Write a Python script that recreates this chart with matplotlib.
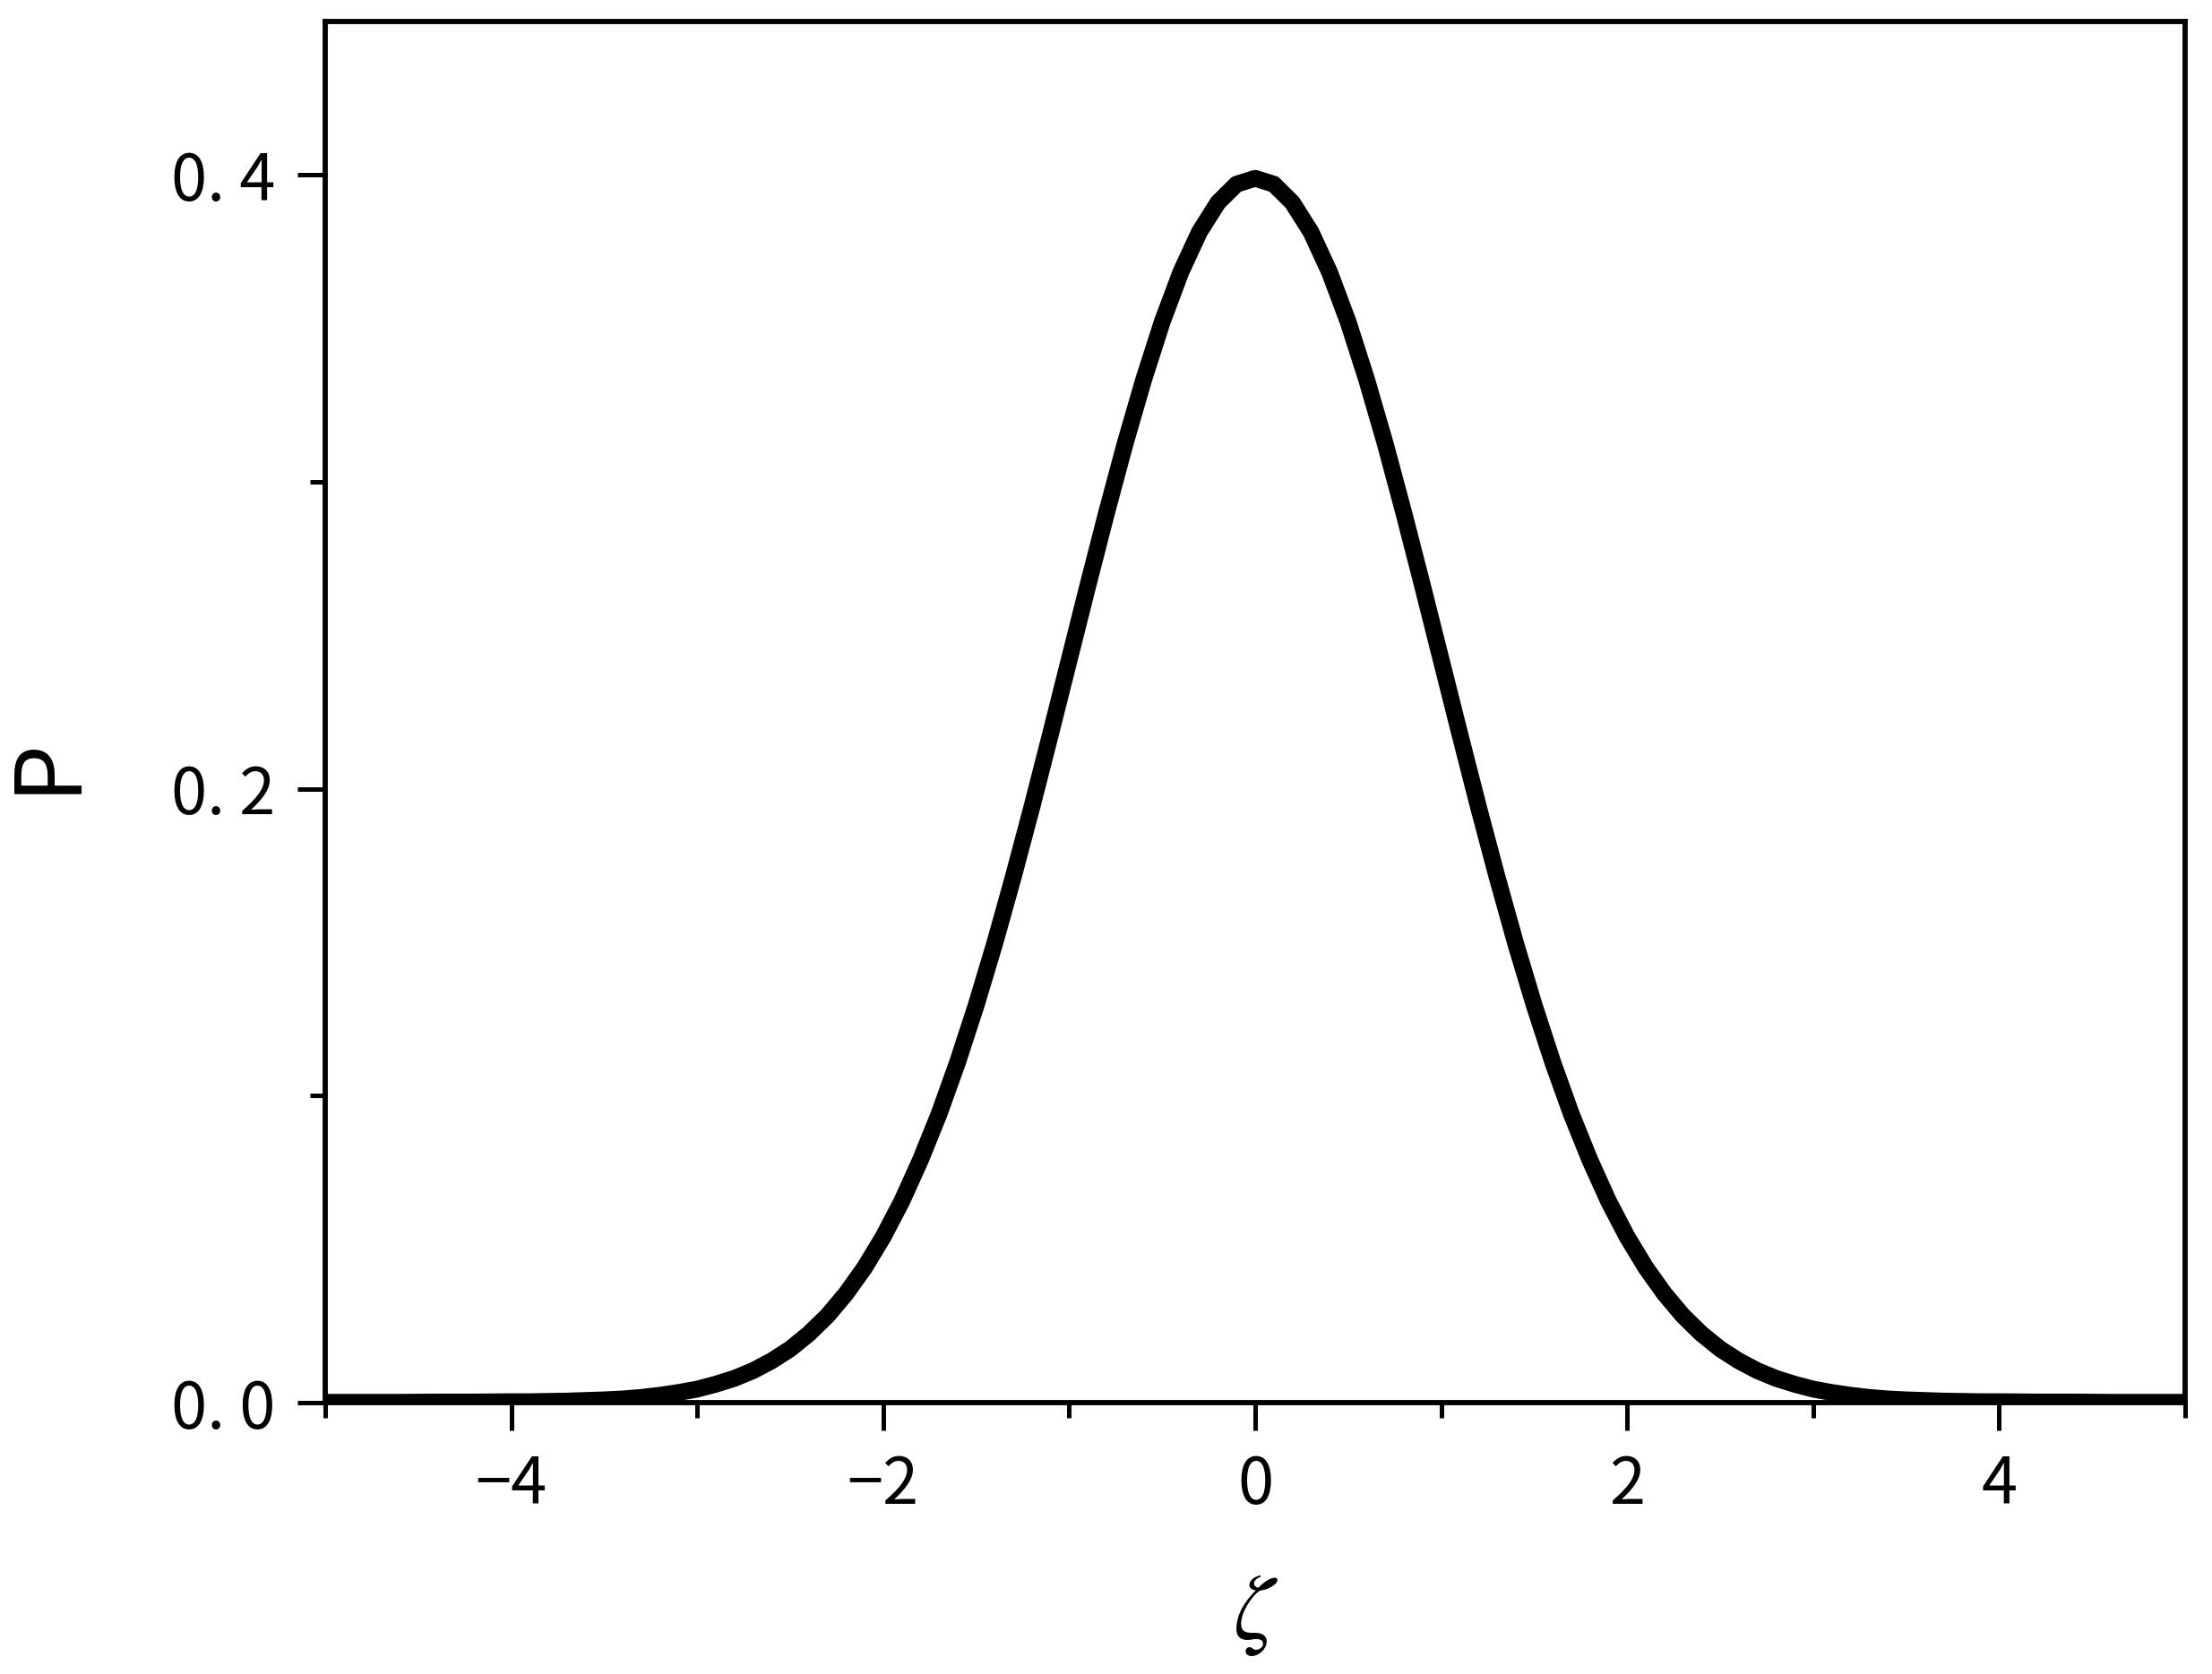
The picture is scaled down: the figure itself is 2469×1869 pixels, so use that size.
import matplotlib
matplotlib.use("Agg")
import matplotlib.pyplot as plt
import numpy as np

# ---- data ----
zeta_right = [0.0, 0.1, 0.2, 0.3, 0.4, 0.5, 0.6, 0.7, 0.8, 0.9,
              1.0, 1.1, 1.2, 1.3, 1.4, 1.5, 1.6, 1.7, 1.8, 1.9,
              2.0, 2.1, 2.2, 2.3, 2.4, 2.5, 2.6, 2.7, 2.8, 2.9,
              3.0, 3.1, 3.2, 3.3, 3.4, 3.5, 3.6, 3.7, 3.8, 3.9,
              4.0, 4.2, 4.4, 4.6, 4.8, 5.0]
prob_right = [0.3989, 0.3970, 0.3910, 0.3814, 0.3683, 0.3521, 0.3332, 0.3123, 0.2897, 0.2661,
              0.2420, 0.2179, 0.1942, 0.1714, 0.1497, 0.1295, 0.1109, 0.0940, 0.0790, 0.0656,
              0.0540, 0.0440, 0.0355, 0.0283, 0.0224, 0.0175, 0.0136, 0.0104, 0.0079, 0.0060,
              0.0044, 0.0033, 0.0024, 0.0017, 0.0012, 0.0009, 0.0007, 0.0005, 0.0004, 0.0003,
              0.0003, 0.0002, 0.0002, 0.0001, 0.0001, 0.0001]
# the curve is symmetric about zeta = 0
zeta = [-z for z in zeta_right[:0:-1]] + zeta_right
prob = prob_right[:0:-1] + prob_right

xticks = [-4, -2, 0, 2, 4]
xtick_labels = ["\u22124", "\u22122", "0", "2", "4"]
xminor = [-5, -3, -1, 1, 3, 5]
yticks = [0.0, 0.2, 0.4]
ytick_labels = ["0. 0", "0. 2", "0. 4"]
yminor = [0.1, 0.3]

plt.rcParams['font.family'] = ['Noto Sans CJK JP', 'DejaVu Sans']
plt.rcParams['mathtext.fontset'] = 'stix'

W, H = 2469, 1869
fig = plt.figure(figsize=(W / 100, H / 100), dpi=100)
L, R, T, B = 363, 2439, 24, 1566
ax = fig.add_axes([L / W, 1 - B / H, (R - L) / W, (B - T) / H])

ax.plot(zeta, prob, color='black', lw=13.5, solid_joinstyle='round',
        solid_capstyle='butt', zorder=3)

ax.set_xlim(-5, 5)
ax.set_ylim(0, 0.45)

ax.set_xticks(xticks)
ax.set_xticklabels(xtick_labels)
ax.set_xticks(xminor, minor=True)
ax.set_yticks(yticks)
ax.set_yticklabels(ytick_labels)
ax.set_yticks(yminor, minor=True)

for s in ax.spines.values():
    s.set_linewidth(4.2)
    s.set_color('black')
    s.set_zorder(4)

ax.tick_params(which='major', direction='out', length=22, width=3.6, labelsize=52, pad=18, colors='black')
ax.tick_params(which='minor', direction='out', length=12, width=3.6)

ax.set_xlabel(r'$\zeta$', fontsize=74, va='center', ha='center')
ax.xaxis.set_label_coords((1401 - L) / (R - L), (B - 1800) / (B - T))
ax.set_ylabel('P', fontsize=74, rotation=90, va='center', ha='center')
ax.yaxis.set_label_coords((52 - L) / (R - L), (B - 853) / (B - T))

fig.savefig('out.png', dpi=100, facecolor='white')
